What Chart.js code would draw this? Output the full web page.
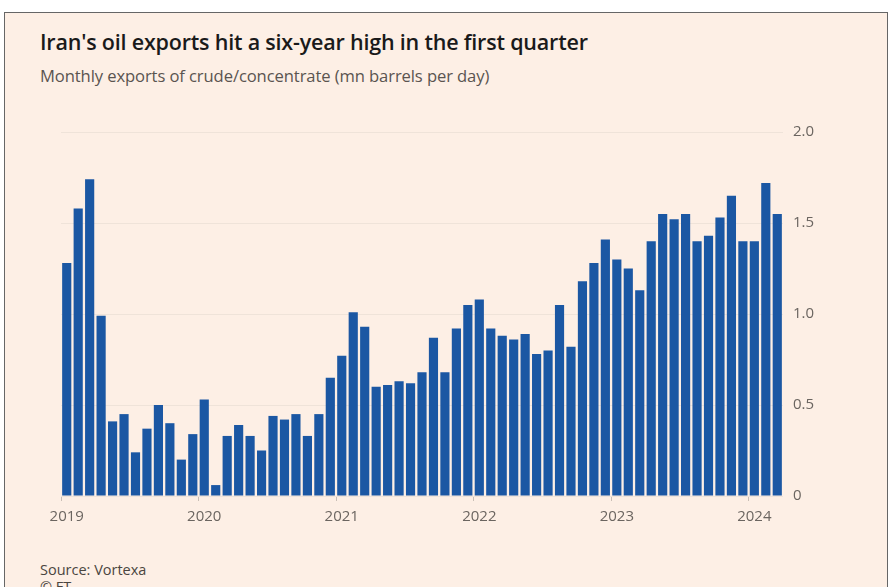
<!DOCTYPE html>
<html>
<head>
<meta charset="utf-8">
<script src="https://cdn.jsdelivr.net/npm/chart.js@4"></script>
<style>
  body { margin: 0; background: #fff; width: 889px; height: 587px; overflow: hidden; position: relative; font-family: "Open Sans", sans-serif; }
  .frame { position: absolute; left: 4px; top: 12px; width: 882px; height: 600px; border: 1.5px solid #666; background: #fdefe5; }
  .title { position: absolute; left: 40px; top: 27px; font-size: 21.5px; color: #1a1a1a; font-weight: 600; letter-spacing: -0.2px; }
  .subtitle { position: absolute; left: 40px; top: 64px; font-size: 16.6px; color: #5a5450; letter-spacing: -0.1px; }
  .source { position: absolute; left: 40px; top: 560px; font-size: 14.5px; color: #4a4540; }
  .ft { position: absolute; left: 40px; top: 577px; font-size: 14.5px; color: #4a4540; }
  .wrap { position: absolute; left: 0; top: 0; width: 889px; height: 587px; }
</style>
</head>
<body>
<div class="frame"></div>
<div class="title">Iran's oil exports hit a six-year high in the first quarter</div>
<div class="subtitle">Monthly exports of crude/concentrate (mn barrels per day)</div>
<div class="source">Source: Vortexa</div>
<div class="ft">© FT</div>
<div class="wrap"><canvas id="chart"></canvas></div>
<script>
const months = [
  '2019-01','2019-02','2019-03','2019-04','2019-05','2019-06','2019-07','2019-08','2019-09','2019-10','2019-11','2019-12',
  '2020-01','2020-02','2020-03','2020-04','2020-05','2020-06','2020-07','2020-08','2020-09','2020-10','2020-11','2020-12',
  '2021-01','2021-02','2021-03','2021-04','2021-05','2021-06','2021-07','2021-08','2021-09','2021-10','2021-11','2021-12',
  '2022-01','2022-02','2022-03','2022-04','2022-05','2022-06','2022-07','2022-08','2022-09','2022-10','2022-11','2022-12',
  '2023-01','2023-02','2023-03','2023-04','2023-05','2023-06','2023-07','2023-08','2023-09','2023-10','2023-11','2023-12',
  '2024-01','2024-02','2024-03'
];

const exports2019 = [1.28, 1.58, 1.74, 0.99, 0.41, 0.45, 0.24, 0.37, 0.50, 0.40, 0.20, 0.34];
const exports2020 = [0.53, 0.06, 0.33, 0.39, 0.33, 0.25, 0.44, 0.42, 0.45, 0.33, 0.45, 0.65];
const exports2021 = [0.77, 1.01, 0.93, 0.60, 0.61, 0.63, 0.62, 0.68, 0.87, 0.68, 0.92, 1.05];
const exports2022 = [1.08, 0.92, 0.88, 0.86, 0.89, 0.78, 0.80, 1.05, 0.82, 1.18, 1.28, 1.41];
const exports2023 = [1.30, 1.25, 1.13, 1.40, 1.55, 1.52, 1.55, 1.40, 1.43, 1.53, 1.65, 1.40];
const exports2024 = [1.40, 1.72, 1.55];

const values = [...exports2019, ...exports2020, ...exports2021, ...exports2022, ...exports2023, ...exports2024];
const yTicks = [0, 0.5, 1.0, 1.5, 2.0];

const tickColor = '#6b6560';
const isYearStart = i => months[i] && months[i].endsWith('-01');

new Chart(document.getElementById('chart'), {
  type: 'bar',
  data: {
    labels: months,
    datasets: [{ data: values, backgroundColor: '#1b57a3', borderWidth: 0, barPercentage: 0.8, categoryPercentage: 1 }]
  },
  options: {
    responsive: true,
    maintainAspectRatio: false,
    animation: false,
    layout: { padding: { left: 61, top: 132, right: 66, bottom: 50 } },
    plugins: { legend: { display: false }, tooltip: { enabled: false } },
    scales: {
      x: {
        afterFit: s => { s.height = 41; },
        grid: {
          drawOnChartArea: false,
          tickLength: 5,
          color: ctx => isYearStart(ctx.index) ? '#c9bfb6' : 'rgba(0,0,0,0)'
        },
        border: { display: false },
        ticks: {
          autoSkip: false,
          maxRotation: 0,
          padding: 7,
          color: tickColor,
          font: { family: 'Open Sans, sans-serif', size: 15 },
          callback: function (v, i) { return isYearStart(i) ? months[i].slice(0, 4) : ''; }
        }
      },
      y: {
        position: 'right',
        min: 0,
        max: 2,
        afterFit: s => { s.width = 40; },
        afterBuildTicks: s => { s.ticks = yTicks.map(v => ({ value: v })); },
        grid: { color: '#efe3d9', drawTicks: false, lineWidth: 1 },
        border: { display: false },
        ticks: {
          padding: 10,
          color: tickColor,
          font: { family: 'Open Sans, sans-serif', size: 15 },
          callback: v => v === 0 ? '0' : v.toFixed(1)
        }
      }
    }
  }
});
</script>
</body>
</html>
